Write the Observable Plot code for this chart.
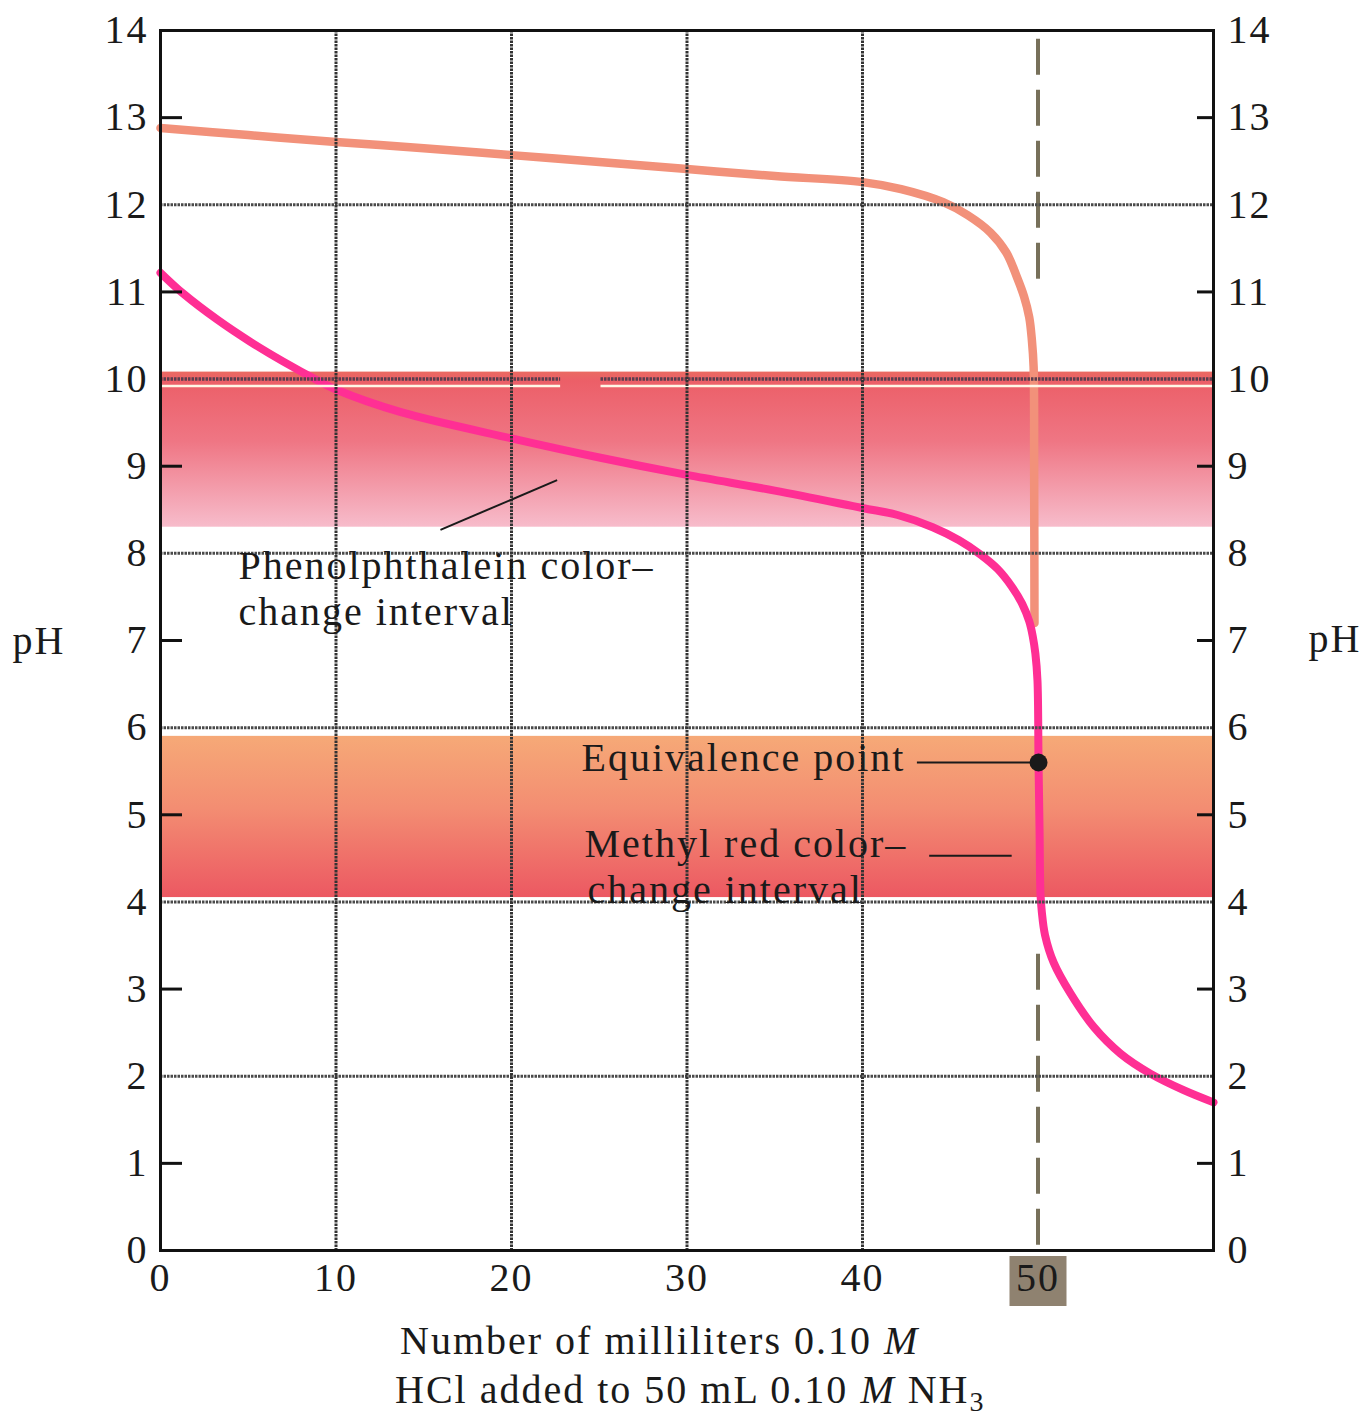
<!DOCTYPE html>
<html><head><meta charset="utf-8">
<script src="https://cdn.jsdelivr.net/npm/d3@7"></script>
<script src="https://cdn.jsdelivr.net/npm/@observablehq/plot@0.6"></script>
<style>
body{margin:0;background:#fff;}
svg text{letter-spacing:2px;}
</style></head><body><div id="chart"></div>
<script>
// ---- data ----
const xTicks = [0, 10, 20, 30, 40, 50];
const yTicks = d3.range(0, 15);
const oddTicks = [1, 3, 5, 7, 9, 11, 13];
const gridX = [10, 20, 30, 40];
const gridY = [2, 4, 6, 8, 12];
const grid10Segments = [{x1: 0, x2: 22.8}, {x1: 25.1, x2: 60}];

// 0.10 M NH3 titrated with HCl (pink)
const pinkX  = [0, 1.3, 3.25, 5.1, 7, 8.9, 10, 13.7, 20, 25, 30, 35, 40, 42, 44, 45.5, 46.7, 47.7, 48.5, 49.1, 49.5, 49.7, 49.85, 49.97, 50.03, 50.09, 50.14, 50.22, 50.4, 50.9, 51.85, 53.2, 54.7, 56.4, 58.3, 60];
const pinkPH = [11.22, 10.98, 10.68, 10.43, 10.2, 9.99, 9.88, 9.62, 9.32, 9.1, 8.9, 8.72, 8.52, 8.44, 8.3, 8.15, 7.99, 7.82, 7.62, 7.42, 7.22, 7.05, 6.85, 6.54, 5.6, 4.8, 4.1, 3.88, 3.62, 3.3, 2.95, 2.56, 2.26, 2.03, 1.84, 1.70];

// strong base curve (orange)
const orangeX  = [0, 5, 10, 15, 20, 25, 30, 35, 40, 42.2, 44.6, 46, 47.3, 48.2, 48.8, 49.2, 49.5, 49.65, 49.75, 49.78, 49.8];
const orangePH = [12.88, 12.80, 12.72, 12.65, 12.57, 12.49, 12.41, 12.33, 12.26, 12.18, 12.03, 11.88, 11.68, 11.45, 11.17, 10.95, 10.71, 10.45, 10.14, 9.0, 7.2];

const phenolBand = [8.3, 10.08];
const methylBand = [4.05, 5.9];
const equivalence = [{x: 50.03, pH: 5.6}];
const dashSegments = [{y1: 13.9, y2: 11.0}, {y1: 3.4, y2: 0}];

const annotTexts = ["Phenolphthalein color\u2013", "change interval", "Equivalence point", "Methyl red color\u2013", "change interval"];
const annotX = [4.44, 4.44, 23.99, 24.16, 24.33];
const annotY = [7.85, 7.32, 5.65, 4.66, 4.14];
const leaderLines = [
  {x1: 15.95, y1: 8.27, x2: 22.6, y2: 8.84},
  {x1: 43.1, y1: 5.6, x2: 49.7, y2: 5.6},
  {x1: 43.8, y1: 4.53, x2: 48.5, y2: 4.53}
];

const pink = pinkX.map((x, i) => ({x, pH: pinkPH[i]}));
const orange = orangeX.map((x, i) => ({x, pH: orangePH[i]}));
const annots = annotTexts.map((t, i) => ({text: t, x: annotX[i], y: annotY[i]}));

const W = 1367, H = 1416, mL = 160, mR = 154, mT = 30, mB = 166;
const innerW = W - mL - mR;

const plot = Plot.plot({
  width: W, height: H,
  marginLeft: mL, marginRight: mR, marginTop: mT, marginBottom: mB,
  x: {domain: [0, 60]},
  y: {domain: [0, 14]},
  style: {fontFamily: "'Liberation Serif', 'Times New Roman', serif", fontSize: "40px", color: "#1a1a1a", background: "white"},
  marks: [
    Plot.rect([phenolBand], {x1: 0, x2: 60, y1: d => d[0], y2: d => d[1], fill: "url(#phenolGrad)"}),
    Plot.rect([methylBand], {x1: 0, x2: 60, y1: d => d[0], y2: d => d[1], fill: "url(#methylGrad)"}),
    Plot.ruleX(dashSegments, {x: 50, y1: "y1", y2: "y2", stroke: "#77705a", strokeWidth: 4, strokeDasharray: "36,15"}),
    Plot.line(orange, {x: "x", y: "pH", stroke: "#f2917a", strokeWidth: 8.5, curve: "catmull-rom"}),
    Plot.line(pink, {x: "x", y: "pH", stroke: "#ff2f94", strokeWidth: 8, curve: "catmull-rom"}),
    Plot.ruleY(gridY, {stroke: "#4a4a4a", strokeWidth: 3, strokeDasharray: "2.5,1"}),
    Plot.ruleY(grid10Segments, {y: 9.92, x1: "x1", x2: "x2", stroke: "#fff6e6", strokeWidth: 2.5}),
    Plot.ruleY(grid10Segments, {y: 10, x1: "x1", x2: "x2", stroke: "#5a3e4e", strokeWidth: 3.5, strokeDasharray: "2.5,1"}),
    Plot.ruleX(gridX, {stroke: "#333", strokeWidth: 3, strokeDasharray: "2.5,1"}),
    Plot.link(leaderLines, {x1: "x1", y1: "y1", x2: "x2", y2: "y2", stroke: "#1a1a1a", strokeWidth: 2}),
    Plot.dot(equivalence, {x: "x", y: "pH", r: 9, fill: "#1a1a1a"}),
    Plot.text(annots, {x: "x", y: "y", text: "text", textAnchor: "start", lineAnchor: "middle", fill: "#1a1a1a", fontSize: 40}),
    Plot.frame({stroke: "#111", strokeWidth: 3}),
    Plot.ruleY(oddTicks, {insetRight: innerW - 22, stroke: "#111", strokeWidth: 3}),
    Plot.ruleY(oddTicks, {insetLeft: innerW - 16, stroke: "#111", strokeWidth: 3}),
    Plot.axisY({anchor: "left", ticks: yTicks, tickSize: 0, tickPadding: 12, label: null, fontSize: 40}),
    Plot.axisY({anchor: "right", ticks: yTicks, tickSize: 0, tickPadding: 14, label: null, fontSize: 40}),
    Plot.axisX({anchor: "bottom", ticks: xTicks, tickSize: 0, tickPadding: 12, label: null, fontSize: 40})
  ]
});

document.getElementById("chart").appendChild(plot);

// gradients and rich text
const svg = d3.select(plot);
const defs = svg.insert("defs", ":first-child");
function grad(id, stops) {
  const g = defs.append("linearGradient").attr("id", id).attr("x1", 0).attr("y1", 0).attr("x2", 0).attr("y2", 1);
  stops.forEach(([o, c]) => g.append("stop").attr("offset", o).attr("stop-color", c));
}
grad("phenolGrad", [["0%", "#ea6a62"], ["6%", "#ec5f68"], ["45%", "#ef7684"], ["100%", "#f7bccb"]]);
grad("methylGrad", [["0%", "#f6a977"], ["45%", "#f38d72"], ["100%", "#ec5862"]]);

const xs = plot.scale("x"), ys = plot.scale("y");
const x50 = xs.apply(50), y0 = ys.apply(0);
svg.insert("rect", "g").attr("x", x50 - 28).attr("y", y0 + 6).attr("width", 57).attr("height", 50).attr("fill", "#8f8270");

const tf = "'Liberation Serif', 'Times New Roman', serif";
function addText(x, y) {
  return svg.append("text").attr("x", x).attr("y", y).attr("text-anchor", "start")
    .attr("font-size", 40).attr("font-family", tf).attr("fill", "#1a1a1a");
}
const t1 = addText(400, y0 + 104);
t1.append("tspan").text("Number of milliliters 0.10 ");
t1.append("tspan").attr("font-style", "italic").text("M");
const t2 = addText(395, y0 + 153);
t2.append("tspan").text("HCl added to 50 mL 0.10 ");
t2.append("tspan").attr("font-style", "italic").text("M");
t2.append("tspan").text(" NH");
t2.append("tspan").attr("font-size", 28).attr("dy", 8).text("3");

svg.append("text").attr("x", 39).attr("y", ys.apply(7) + 14).attr("text-anchor", "middle").attr("font-size", 40).attr("font-family", tf).attr("fill", "#1a1a1a").text("pH");
svg.append("text").attr("x", 1335).attr("y", ys.apply(7) + 12).attr("text-anchor", "middle").attr("font-size", 40).attr("font-family", tf).attr("fill", "#1a1a1a").text("pH");
</script></body></html>
